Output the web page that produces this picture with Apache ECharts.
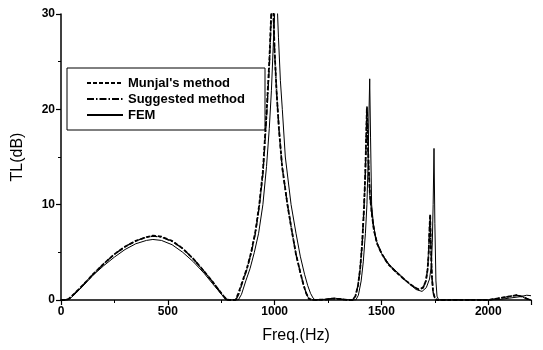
<!DOCTYPE html>
<html>
<head>
<meta charset="utf-8">
<script src="https://cdn.jsdelivr.net/npm/echarts@6/dist/echarts.min.js"></script>
<style>
html,body{margin:0;padding:0;background:#fff;}
#chart{width:543px;height:350px;}
</style>
</head>
<body>
<div id="chart"></div>
<script>
// ---- data ----
var seriesNames = ["Munjal's method", "Suggested method", "FEM"];
var xTicks = [0, 500, 1000, 1500, 2000];
var yTicks = [0, 10, 20, 30];

var freqMunjal = [0,20,35,60,100,150,200,250,300,350,400,430,470,520,570,620,670,710,740,760,775,790,805,817,830,850,870,890,910,928,945,963,975,983,988,993,1000,1010,1020,1035,1060,1080,1100,1120,1135,1148,1160,1175,1240,1270,1300,1340,1365,1378,1390,1400,1410,1418,1424,1428,1432,1436,1440,1446,1455,1465,1480,1500,1530,1570,1610,1650,1675,1695,1708,1716,1721,1725,1728,1731,1736,1742,1750,1760,2000,2040,2080,2110,2133,2160,2180,2198];
var tlMunjal   = [0,0,0.1,0.6,1.5,2.7,3.8,4.8,5.6,6.2,6.6,6.75,6.65,6.2,5.4,4.3,3.0,1.9,1.0,0.45,0.05,0,0,0,0.7,2.0,3.3,5.0,7.2,10,13.5,20,25,29.5,33,31,26,21.5,18,14,10,7.3,4.8,2.9,1.6,0.7,0.15,0,0.05,0.15,0.12,0,0,0.4,1.5,3.2,6,9.5,13,16.5,20.3,17,14,11,9,7.3,5.9,4.9,3.8,2.9,2.1,1.4,1.1,1.3,2,3.2,5,7.5,9,6,2.5,0.8,0.2,0,0,0.15,0.3,0.42,0.5,0.35,0.15,0];

var freqSuggested = [0,20,35,60,100,150,200,250,300,350,400,430,470,520,570,620,670,710,740,760,776,790,805,818,832,850,870,890,910,928,945,963,975,983,988,993,1000,1010,1020,1035,1060,1080,1100,1120,1135,1148,1160,1175,1240,1270,1300,1340,1365,1378,1390,1400,1410,1418,1424,1428,1432,1436,1440,1446,1455,1465,1480,1500,1530,1570,1610,1650,1675,1695,1708,1716,1721,1725,1728,1731,1736,1742,1750,1760,2000,2040,2080,2110,2133,2160,2180,2198];
var tlSuggested   = [0,0,0.1,0.6,1.5,2.7,3.8,4.8,5.6,6.2,6.6,6.7,6.6,6.15,5.4,4.3,3.0,1.9,1.0,0.45,0.05,0,0,0,0.6,1.9,3.2,4.9,7.0,9.8,13.2,19.5,24.5,29,33,31,26,21.5,18,14,10,7.3,4.8,2.9,1.6,0.7,0.15,0,0.05,0.15,0.12,0,0,0.4,1.5,3.2,6,9.5,13,16.5,20.2,17,14,11,9,7.3,5.9,4.9,3.8,2.9,2.1,1.4,1.1,1.3,2,3.2,5,7.5,8.8,6,2.5,0.8,0.2,0,0,0.15,0.3,0.42,0.5,0.35,0.15,0];

var freqFEM = [0,25,40,60,100,150,200,250,300,350,400,430,470,520,570,620,670,710,740,760,772,800,830,845,865,885,905,925,945,962,975,985,995,1002,1007,1012,1018,1027,1036,1050,1077,1100,1120,1140,1155,1168,1180,1190,1250,1280,1320,1380,1392,1405,1415,1425,1432,1437,1441,1445,1449,1454,1462,1475,1500,1540,1580,1620,1662,1690,1710,1725,1733,1738,1742,1746,1750,1755,1760,1768,2000,2050,2100,2150,2180,2200];
var tlFEM   = [0,0,0.1,0.5,1.4,2.6,3.6,4.5,5.3,5.9,6.25,6.35,6.25,5.8,5.0,4.0,2.8,1.7,0.9,0.35,0,0,0,0.6,2,3.3,5,7,10,14,18,22,27.5,31,33,31,27.5,23,20,15,10,7.0,4.6,2.7,1.5,0.7,0.2,0,0.1,0.2,0.05,0,0.5,2,4,7,10,14,19,23.2,17,10,8,6.3,4.9,3.6,2.8,1.9,1.1,0.9,1.3,2.2,3.5,6,10,15.9,8,2,0.4,0,0,0.05,0.2,0.35,0.5,0.45];

function pairs(xs, ys){ return xs.map(function(x,i){ return [x, ys[i]]; }); }

var chart = echarts.init(document.getElementById('chart'), null, {renderer:'canvas'});
var fontFam = '"Liberation Sans", Arial, sans-serif';
var axisCommon = {
  axisLine:{show:true, lineStyle:{color:'#000', width:1.5}},
  axisTick:{show:true, inside:false, length:5, lineStyle:{color:'#000', width:1.2}},
  minorTick:{show:true, splitNumber:2, length:3, lineStyle:{color:'#000', width:1}},
  splitLine:{show:false},
  axisLabel:{color:'#000', fontFamily:fontFam, fontWeight:'bold', fontSize:12}
};
chart.setOption({
  animation:false,
  backgroundColor:'#fff',
  grid:{left:61, right:12, top:14, bottom:50, containLabel:false},
  legend:{
    show:true, orient:'vertical', left:67, top:68,
    data:seriesNames,
    itemWidth:36, itemHeight:10, itemGap:2,
    itemStyle:{opacity:0},
    borderColor:'#000', borderWidth:1, borderRadius:0,
    padding:[8,20,8,19],
    textStyle:{color:'#000', fontFamily:fontFam, fontWeight:'bold', fontSize:13, lineHeight:14}
  },
  xAxis:Object.assign({}, axisCommon, {
    type:'value', min:xTicks[0], max:2200, interval:500,
    name:'Freq.(Hz)', nameLocation:'middle', nameGap:28,
    nameTextStyle:{color:'#000', fontFamily:fontFam, fontSize:16, fontWeight:'normal'},
    axisLabel:Object.assign({}, axisCommon.axisLabel, {margin:6,
      formatter:function(v){ return xTicks.indexOf(v)>=0 ? String(v) : ''; }})
  }),
  yAxis:Object.assign({}, axisCommon, {
    type:'value', min:yTicks[0], max:yTicks[yTicks.length-1], interval:10,
    name:'TL(dB)', nameLocation:'middle', nameGap:35, nameRotate:90,
    nameTextStyle:{color:'#000', fontFamily:fontFam, fontSize:16, fontWeight:'normal'},
    axisLabel:Object.assign({}, axisCommon.axisLabel, {margin:6})
  }),
  series:[
    {name:seriesNames[0], type:'line', data:pairs(freqMunjal, tlMunjal), showSymbol:false, symbol:'none', clip:true,
     lineStyle:{color:'#000', width:1.8, type:[4,2]}, itemStyle:{color:'#000'}},
    {name:seriesNames[1], type:'line', data:pairs(freqSuggested, tlSuggested), showSymbol:false, symbol:'none', clip:true,
     lineStyle:{color:'#000', width:1.4, type:[7,2,1.5,2]}, itemStyle:{color:'#000'}},
    {name:seriesNames[2], type:'line', data:pairs(freqFEM, tlFEM), showSymbol:false, symbol:'none', clip:true,
     lineStyle:{color:'#000', width:1, type:'solid'}, itemStyle:{color:'#000'}}
  ]
});
</script>
</body>
</html>
